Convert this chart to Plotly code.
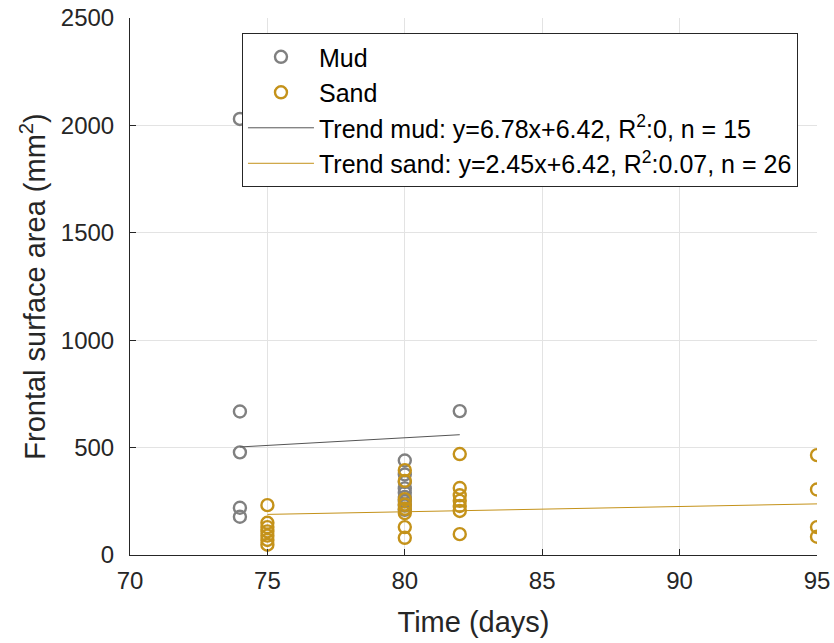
import plotly.graph_objects as go

# Data
mud_x = [74, 74, 74, 74, 74, 80, 80, 80, 80, 80, 80, 80, 80, 80, 82]
mud_y = [2030, 668, 478, 220, 178, 440, 375, 340, 310, 290, 270, 250, 230, 210, 670]

sand_x = [75] * 7 + [80] * 8 + [82] * 7 + [95] * 4
sand_y = [232, 150, 130, 110, 90, 70, 48,
          395, 345, 260, 235, 215, 195, 130, 80,
          470, 312, 278, 252, 228, 205, 97,
          465, 305, 130, 85]

mud_trend_x = [74, 82]
mud_trend_y = [503, 560]
sand_trend_x = [75, 95]
sand_trend_y = [189, 238]

mud_color = "#808080"
sand_color = "#C4921A"
font_family = "Liberation Sans, Arial, sans-serif"

fig = go.Figure()
fig.add_trace(go.Scatter(
    x=mud_x, y=mud_y, mode="markers", name="Mud",
    marker=dict(symbol="circle-open", size=12, color=mud_color, line=dict(width=2.4, color=mud_color)),
))
fig.add_trace(go.Scatter(
    x=sand_x, y=sand_y, mode="markers", name="Sand",
    marker=dict(symbol="circle-open", size=12, color=sand_color, line=dict(width=2.4, color=sand_color)),
))
fig.add_trace(go.Scatter(
    x=mud_trend_x, y=mud_trend_y, mode="lines",
    name="Trend mud: y=6.78x+6.42, R<sup>2</sup>:0, n = 15",
    line=dict(color="#555555", width=1),
))
fig.add_trace(go.Scatter(
    x=sand_trend_x, y=sand_trend_y, mode="lines",
    name="Trend sand: y=2.45x+6.42, R<sup>2</sup>:0.07, n = 26",
    line=dict(color=sand_color, width=1),
))

fig.update_layout(
    width=834, height=643,
    margin=dict(l=130, r=17, t=18, b=88),
    paper_bgcolor="white", plot_bgcolor="white",
    font=dict(family=font_family, color="#262626"),
    showlegend=True,
    legend=dict(
        x=0.163, y=0.972, xanchor="left", yanchor="top",
        bgcolor="white", bordercolor="#262626", borderwidth=1,
        font=dict(size=25, family=font_family, color="#000000"),
        itemwidth=66, tracegroupgap=0,
    ),
)
fig.update_xaxes(
    range=[70, 95], tickvals=[70, 75, 80, 85, 90, 95],
    showgrid=True, gridcolor="#e3e3e3", gridwidth=1,
    showline=True, linecolor="#262626", linewidth=1,
    ticks="inside", ticklen=6, tickcolor="#262626",
    tickfont=dict(size=24, family=font_family, color="#262626"),
    ticklabelstandoff=4, automargin=False,
    title=dict(text="Time (days)", font=dict(size=29, family=font_family, color="#262626"), standoff=18),
    zeroline=False,
)
fig.update_yaxes(
    range=[0, 2500], tickvals=[0, 500, 1000, 1500, 2000, 2500],
    showgrid=True, gridcolor="#e3e3e3", gridwidth=1,
    showline=True, linecolor="#262626", linewidth=1,
    ticks="inside", ticklen=6, tickcolor="#262626",
    tickfont=dict(size=24, family=font_family, color="#262626"),
    ticklabelstandoff=10, automargin=False,
    title=dict(text="Frontal surface area (mm<sup>2</sup>)", font=dict(size=29, family=font_family, color="#262626"), standoff=6),
    zeroline=False,
)

fig.write_html("out.html")
